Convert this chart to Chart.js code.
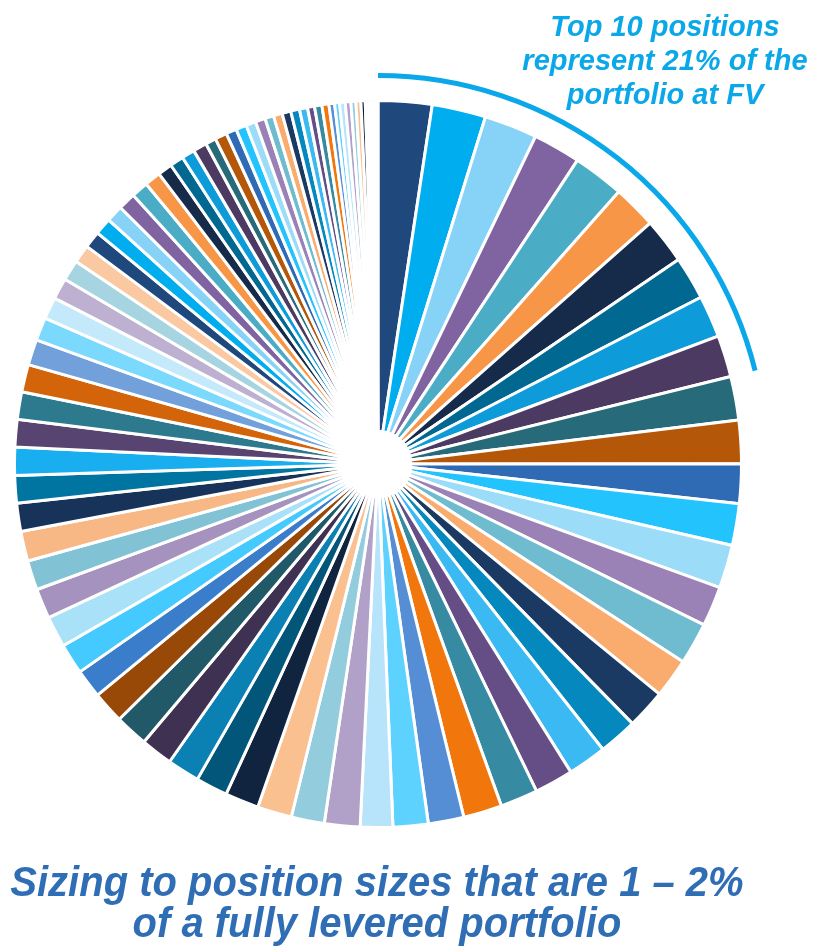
<!DOCTYPE html>
<html lang="en">
<head>
<meta charset="utf-8">
<title>Portfolio position sizing</title>
<script src="https://cdn.jsdelivr.net/npm/chart.js@4.4.1/dist/chart.umd.min.js"></script>
<style>
    html, body {
        margin: 0;
        padding: 0;
        background: #ffffff;
    }
    body {
        position: relative;
        width: 814px;
        height: 948px;
        overflow: hidden;
        font-family: "Liberation Sans", Arial, sans-serif;
    }
    #pieWrap {
        position: absolute;
        left: 0;
        top: 0;
        width: 814px;
        height: 948px;
    }
    .note {
        position: absolute;
        left: 520px;
        top: 9px;
        width: 290px;
        text-align: center;
        font-weight: bold;
        font-style: italic;
        font-size: 29px;
        line-height: 34px;
        color: #0aa8e8;
        white-space: nowrap;
    }
    .caption {
        position: absolute;
        left: -100px;
        top: 861px;
        width: 954px;
        text-align: center;
        font-weight: bold;
        font-style: italic;
        font-size: 43px;
        line-height: 41px;
        color: #2f6db5;
        white-space: nowrap;
        transform: scaleX(0.93);
        transform-origin: 477px 0;
    }
</style>
</head>
<body>
<div id="pieWrap"><canvas id="positionsChart"></canvas></div>
<div class="note">Top 10 positions<br>represent 21% of the<br>portfolio at FV</div>
<div class="caption">Sizing to position sizes that are 1 – 2%<br>of a fully levered portfolio</div>

<script>
// Poids de chaque position (% du portefeuille)
const positionWeights = [
    2.39, 2.39, 2.36, 2.11, 2.28, 1.94, 2.03, 1.92, 1.86, 1.86,
    1.94, 1.92, 1.75, 1.86, 1.92, 1.78, 1.86, 1.75, 1.75, 1.72,
    1.72, 1.72, 1.67, 1.72, 1.58, 1.56, 1.44, 1.58, 1.47, 1.53,
    1.50, 1.42, 1.44, 1.42, 1.47, 1.42, 1.28, 1.36, 1.39, 1.33,
    1.31, 1.33, 1.25, 1.22, 1.25, 1.22, 1.22, 1.22, 1.14, 1.03,
    0.97, 0.94, 0.92, 0.81, 0.75, 0.75, 0.75, 0.78, 0.75, 0.72,
    0.64, 0.61, 0.58, 0.61, 0.47, 0.53, 0.47, 0.47, 0.44, 0.44,
    0.39, 0.39, 0.39, 0.39, 0.36, 0.31, 0.33, 0.31, 0.25, 0.22,
    0.25, 0.25, 0.22, 0.22, 0.19, 0.08, 0.08, 0.08, 0.08, 0.08,
    0.08, 0.08
];

const positionLabels = positionWeights.map((w, i) => 'Position ' + (i + 1));

// Nombre de positions couvertes par l'annotation
const topCount = 10;

// Palette qui se répète tous les 54 segments
const palette = [
    '#1f497d', '#00aeef', '#86d3f7', '#8064a2', '#4bacc6', '#f79646',
    '#162a4a', '#006891', '#0d9cd9', '#4d3a62', '#276b7b', '#b45708',
    '#2e6bb4', '#23c4fe', '#9bdcf8', '#9a82b6', '#6fbbd0', '#f9ac6e',
    '#1a3a63', '#0488be', '#3bb9f2', '#654e86', '#368ba3', '#f1760c',
    '#558ed5', '#5ed2ff', '#b7e4fa', '#b1a0c7', '#93cddd', '#fac090',
    '#10243f', '#025679', '#0a80b3', '#3f3151', '#215968', '#984807',
    '#3a7dcb', '#44cafe', '#a9e1f9', '#a592be', '#81c3d5', '#f8b886',
    '#17335a', '#0075a2', '#19aeef', '#574470', '#2d7a8f', '#d3640a',
    '#71a0db', '#7bd9fe', '#c4e9fb', '#bdb0d1', '#a6d4e0', '#fac9a2'
];

const sliceColors = positionWeights.map((w, i) => palette[i % palette.length]);

// Arc bleu autour des 10 premières positions
const topArcPlugin = {
    id: 'topArc',
    afterDatasetsDraw(chart) {
        const meta = chart.getDatasetMeta(0);
        if (!meta.data.length) return;
        const arc = meta.data[0];
        const total = positionWeights.reduce((a, b) => a + b, 0);
        const topShare = positionWeights.slice(0, topCount).reduce((a, b) => a + b, 0) / total;
        const start = -Math.PI / 2;
        const end = start + topShare * Math.PI * 2;
        const ctx = chart.ctx;
        ctx.save();
        ctx.beginPath();
        ctx.arc(arc.x, arc.y, arc.outerRadius + 25, start, end);
        ctx.strokeStyle = '#0aa8e8';
        ctx.lineWidth = 5;
        ctx.lineCap = 'butt';
        ctx.stroke();
        ctx.restore();
    }
};

const chart = new Chart(document.getElementById('positionsChart'), {
    type: 'pie',
    data: {
        labels: positionLabels,
        datasets: [{
            data: positionWeights,
            backgroundColor: sliceColors,
            borderColor: '#ffffff',
            borderWidth: 3
        }]
    },
    options: {
        responsive: true,
        maintainAspectRatio: false,
        animation: false,
        cutout: '9%',
        layout: {
            padding: { left: 13, top: 99, right: 71, bottom: 119 }
        },
        plugins: {
            legend: { display: false },
            tooltip: { enabled: false }
        }
    },
    plugins: [topArcPlugin]
});
</script>
</body>
</html>
